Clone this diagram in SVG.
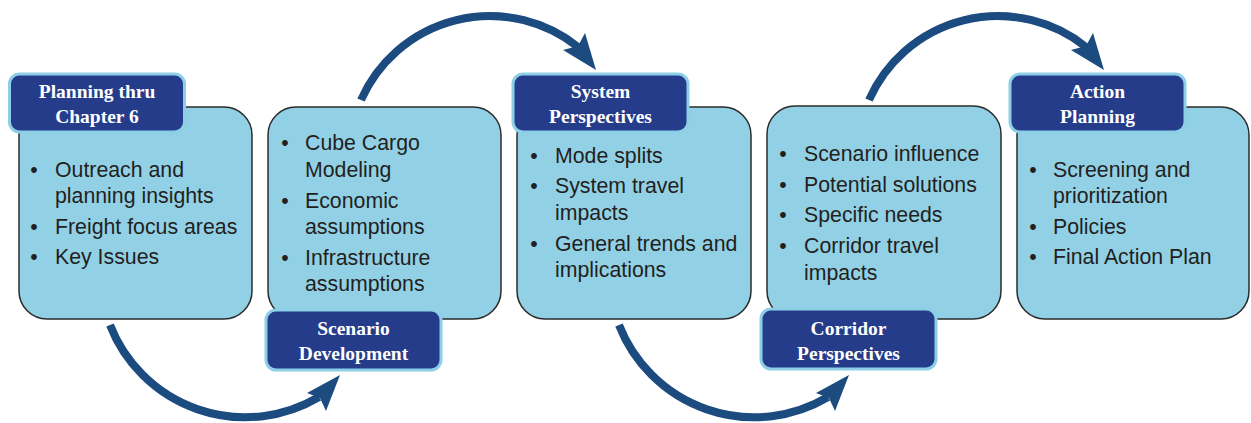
<svg xmlns="http://www.w3.org/2000/svg" width="1251" height="423" viewBox="0 0 1251 423">
<style>
.box{fill:#92d1e5;stroke:#2b2b2b;stroke-width:1.5}
.ttl{fill:#253c8b;stroke:#8dcfe6;stroke-width:3}
.tt{font-family:"Liberation Serif","Times New Roman",serif;font-weight:bold;font-size:19.5px;fill:#ffffff;text-anchor:middle}
.bt{font-family:"Liberation Sans",Arial,sans-serif;font-size:21.3px;fill:#231f20}
.bu{font-family:"Liberation Sans",Arial,sans-serif;font-size:21.3px;fill:#231f20;text-anchor:middle}
.arc{fill:none;stroke:#1c4b80;stroke-width:8}
.head{fill:#1c4b80}
</style>
<rect width="1251" height="423" fill="#ffffff"/>
<g id="connectors">
  <g id="arrow1">
    <path class="arc" d="M110,325 A145,145 0 0 0 319,397"/>
    <polygon class="head" points="340,375 326,411 320,398 307,393"/>
  </g>
  <g id="arrow2">
    <path class="arc" d="M361,100 A141,141 0 0 1 578,47"/>
    <polygon class="head" points="585,33 596,70 563,50 578,46"/>
  </g>
  <g id="arrow3">
    <path class="arc" d="M619,325 A145,145 0 0 0 828,397"/>
    <polygon class="head" points="849,375 835,411 829,398 816,393"/>
  </g>
  <g id="arrow4">
    <path class="arc" d="M869,100 A141,141 0 0 1 1086,47"/>
    <polygon class="head" points="1093,33 1104,70 1071,50 1086,46"/>
  </g>
</g>
<g id="node1">
  <rect class="box" x="19" y="107" width="233" height="212" rx="28"/>
  <rect class="ttl" x="9.5" y="74" width="175" height="58" rx="10"/>
  <text class="tt" x="97" y="98">Planning thru</text>
  <text class="tt" x="97" y="123">Chapter 6</text>
  <text class="bu" x="34" y="177">•</text>
  <text class="bt" x="55" y="177">Outreach and</text>
  <text class="bt" x="55" y="203">planning insights</text>
  <text class="bu" x="34" y="234">•</text>
  <text class="bt" x="55" y="234">Freight focus areas</text>
  <text class="bu" x="34" y="264">•</text>
  <text class="bt" x="55" y="264">Key Issues</text>
</g>
<g id="node2">
  <rect class="box" x="268" y="107" width="233" height="212" rx="28"/>
  <rect class="ttl" x="266" y="310" width="175" height="60" rx="10"/>
  <text class="tt" x="353.5" y="335">Scenario</text>
  <text class="tt" x="353.5" y="360">Development</text>
  <text class="bu" x="285" y="150">•</text>
  <text class="bt" x="305" y="150">Cube Cargo</text>
  <text class="bt" x="305" y="177">Modeling</text>
  <text class="bu" x="285" y="208">•</text>
  <text class="bt" x="305" y="208">Economic</text>
  <text class="bt" x="305" y="234">assumptions</text>
  <text class="bu" x="285" y="265">•</text>
  <text class="bt" x="305" y="265">Infrastructure</text>
  <text class="bt" x="305" y="291">assumptions</text>
</g>
<g id="node3">
  <rect class="box" x="517" y="107" width="234" height="212" rx="28"/>
  <rect class="ttl" x="513" y="74" width="175" height="58" rx="10"/>
  <text class="tt" x="600.5" y="98">System</text>
  <text class="tt" x="600.5" y="123">Perspectives</text>
  <text class="bu" x="534" y="163">•</text>
  <text class="bt" x="555" y="163">Mode splits</text>
  <text class="bu" x="534" y="193">•</text>
  <text class="bt" x="555" y="193">System travel</text>
  <text class="bt" x="555" y="220">impacts</text>
  <text class="bu" x="534" y="251">•</text>
  <text class="bt" x="555" y="251">General trends and</text>
  <text class="bt" x="555" y="277">implications</text>
</g>
<g id="node4">
  <rect class="box" x="767" y="106" width="234" height="213" rx="28"/>
  <rect class="ttl" x="761" y="309" width="175" height="60" rx="10"/>
  <text class="tt" x="848.5" y="335">Corridor</text>
  <text class="tt" x="848.5" y="360">Perspectives</text>
  <text class="bu" x="783" y="161">•</text>
  <text class="bt" x="804" y="161">Scenario influence</text>
  <text class="bu" x="783" y="192">•</text>
  <text class="bt" x="804" y="192">Potential solutions</text>
  <text class="bu" x="783" y="222">•</text>
  <text class="bt" x="804" y="222">Specific needs</text>
  <text class="bu" x="783" y="253">•</text>
  <text class="bt" x="804" y="253">Corridor travel</text>
  <text class="bt" x="804" y="280">impacts</text>
</g>
<g id="node5">
  <rect class="box" x="1017" y="107" width="232" height="212" rx="28"/>
  <rect class="ttl" x="1010" y="74" width="175" height="58" rx="10"/>
  <text class="tt" x="1097.5" y="98">Action</text>
  <text class="tt" x="1097.5" y="123">Planning</text>
  <text class="bu" x="1033" y="177">•</text>
  <text class="bt" x="1053" y="177">Screening and</text>
  <text class="bt" x="1053" y="203">prioritization</text>
  <text class="bu" x="1033" y="234">•</text>
  <text class="bt" x="1053" y="234">Policies</text>
  <text class="bu" x="1033" y="264">•</text>
  <text class="bt" x="1053" y="264">Final Action Plan</text>
</g>
</svg>
